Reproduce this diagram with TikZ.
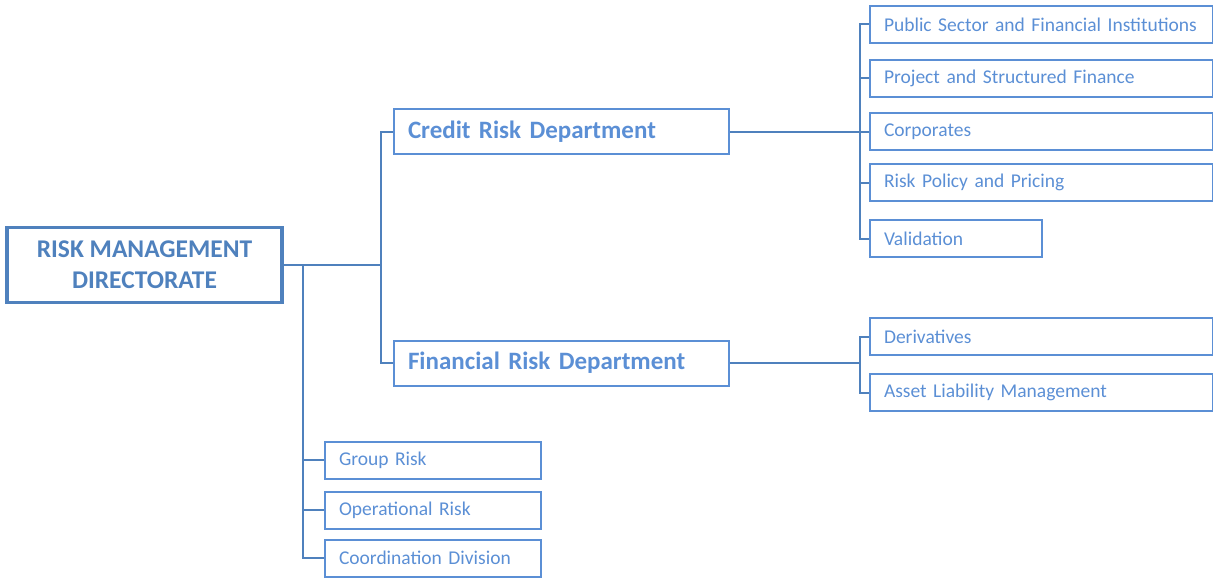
\documentclass[tikz,border=0pt]{standalone}
\usepackage{fontspec}
\setmainfont{Carlito}
\usetikzlibrary{positioning}

\definecolor{darkblue}{RGB}{79,129,189}
\definecolor{lightblue}{RGB}{91,143,213}

\tikzstyle{every node}=[font=\fontsize{19.5}{22}\selectfont]
\tikzstyle{unit}=[draw=lightblue, line width=2pt, text=lightblue, anchor=west,
  minimum height=37pt, inner xsep=14pt, align=left]
\tikzstyle{dept}=[unit, minimum height=45pt, text width=307pt,
  font=\fontsize{25}{28}\selectfont\bfseries]
\tikzstyle{link}=[draw=darkblue, line width=2pt]

\begin{document}
\begin{tikzpicture}[x=1pt, y=-1pt]
  \useasboundingbox (0,0) rectangle (1213,578);

  % directorate
  \node[draw=darkblue, line width=3.5pt, text=darkblue, align=center,
    minimum width=275pt, minimum height=75pt,
    font=\fontsize{25.5}{31}\selectfont\bfseries] (rmd) at (144.5,265)
    {RISK MANAGEMENT\\DIRECTORATE};

  % departments
  \node[dept] (crd) at (393,131.5) {Credit Risk Department};
  \node[dept] (frd) at (393,363) {Financial Risk Department};

  % credit risk units
  \node[unit, text width=315pt] (psf) at (869,24.5) {Public Sector and Financial Institutions};
  \node[unit, text width=315pt] (psf2) at (869,78.5) {Project and Structured Finance};
  \node[unit, text width=315pt] (corp) at (869,131.5) {Corporates};
  \node[unit, text width=315pt] (rpp) at (869,182.5) {Risk Policy and Pricing};
  \node[unit, text width=144pt] (val) at (869,238.5) {Validation};

  % financial risk units
  \node[unit, text width=315pt] (der) at (869,336.5) {Derivatives};
  \node[unit, text width=315pt] (alm) at (869,392.5) {Asset Liability Management};

  % units under the directorate
  \node[unit, text width=188pt] (grp) at (324,460) {Group Risk};
  \node[unit, text width=188pt] (opr) at (324,510) {Operational Risk};
  \node[unit, text width=188pt] (cod) at (324,558) {Coordination Division};

  % branch points
  \coordinate (rmdj) at (381,265);
  \coordinate (rmdb) at (303,265);
  \coordinate (crdj) at (860,131.5);
  \coordinate (frdj) at (860,363);

  \draw[link] (rmd.east) -- (rmdj);
  \draw[link] (rmdj) |- (crd.west);
  \draw[link] (rmdj) |- (frd.west);
  \draw[link] (rmdb) |- (grp.west);
  \draw[link] (rmdb) |- (opr.west);
  \draw[link] (rmdb) |- (cod.west);

  \draw[link] (crd.east) -- (crdj);
  \draw[link] (crdj) |- (psf.west);
  \draw[link] (crdj) |- (psf2.west);
  \draw[link] (crdj) |- (corp.west);
  \draw[link] (crdj) |- (rpp.west);
  \draw[link] (crdj) |- (val.west);

  \draw[link] (frd.east) -- (frdj);
  \draw[link] (frdj) |- (der.west);
  \draw[link] (frdj) |- (alm.west);
\end{tikzpicture}
\end{document}
